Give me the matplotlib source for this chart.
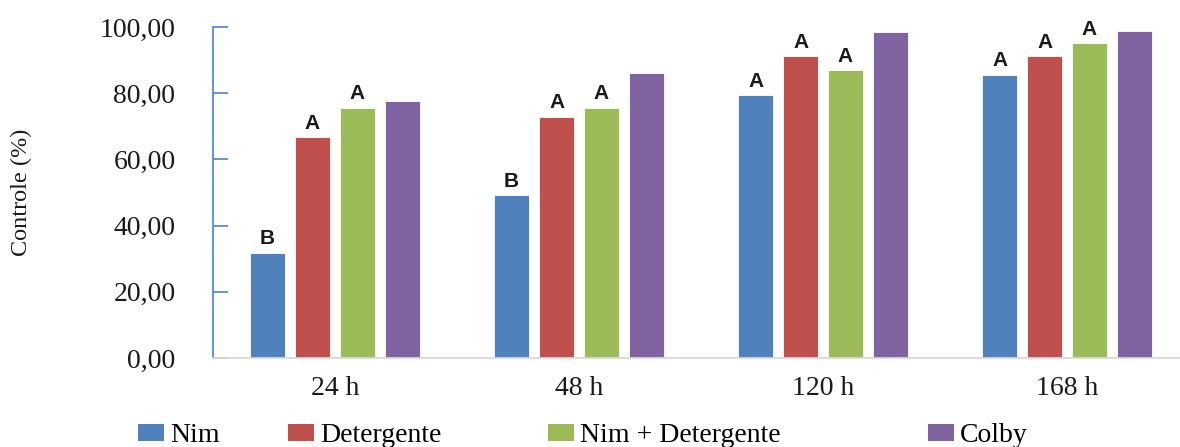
import numpy as np
import matplotlib
matplotlib.use("Agg")
import matplotlib.pyplot as plt
from matplotlib.patches import Patch

# Controle (%) por tratamento e tempo de avaliacao
tempos = ["24 h", "48 h", "120 h", "168 h"]
tratamentos = ["Nim", "Detergente", "Nim + Detergente", "Colby"]
nim = [31.8, 49.2, 79.5, 85.6]
detergente = [66.8, 72.9, 91.2, 91.2]
nim_detergente = [75.6, 75.6, 87.0, 95.1]
colby = [77.6, 86.1, 98.4, 98.9]

# letras do teste de medias (Colby sem letra)
letras_nim = ["B", "B", "A", "A"]
letras_det = ["A", "A", "A", "A"]
letras_nd = ["A", "A", "A", "A"]

cores = ["#4F81BD", "#C0504D", "#9BBB59", "#8064A2"]
serif = ["Liberation Serif", "DejaVu Serif"]

fig = plt.figure(figsize=(11.8, 4.47), dpi=100)
ax = fig.add_axes([0.1805, 0.199, 1 - 0.1805, 0.7406])

x = np.arange(len(tempos))
largura = 0.143
passo = 0.184
series = [nim, detergente, nim_detergente, colby]
letras = [letras_nim, letras_det, letras_nd, None]

for i, (vals, cor, let) in enumerate(zip(series, cores, letras)):
    pos = x + (i - 1.5) * passo
    ax.bar(pos, vals, width=largura, color=cor, edgecolor="white", linewidth=0.6)
    if let is not None:
        for px, v, l in zip(pos, vals, let):
            ax.text(px, v + 1.3, l, ha="center", va="bottom", fontsize=15,
                    fontweight="bold", family=["Liberation Sans", "DejaVu Sans"],
                    color="#1a1a1a")

ax.set_ylim(0, 100)
ax.set_xlim(-0.5, 3.463)
ax.set_yticks(np.arange(0, 101, 20))
ax.set_yticklabels([f"{v:.2f}".replace(".", ",") for v in np.arange(0, 101, 20)])
ax.set_xticks(x)
ax.set_xticklabels(tempos)

for lab in ax.get_yticklabels() + ax.get_xticklabels():
    lab.set_family(serif)
    lab.set_fontsize(20)
    lab.set_color("#1a1a1a")

ax.tick_params(axis="y", direction="in", length=11, width=1.3, color="#5B8BCB", pad=27)
ax.tick_params(axis="x", length=0, pad=13)

ax.spines["top"].set_visible(False)
ax.spines["right"].set_visible(False)
ax.spines["left"].set_color("#5B8BCB")
ax.spines["left"].set_linewidth(1.3)
ax.spines["bottom"].set_color("#D9D9D9")
ax.spines["bottom"].set_linewidth(1.3)

ax.set_ylabel("Controle (%)", family=serif, fontsize=17.5, color="#1a1a1a")
ax.yaxis.set_label_coords(-0.187, 0.5)

# legenda: uma entrada por bloco, posicionadas ao longo da base
leg_x = [138, 288, 548, 928]
for nome, cor, lx in zip(tratamentos, cores, leg_x):
    fig.legend(handles=[Patch(facecolor=cor, edgecolor="none")], labels=[nome],
               loc="center left", bbox_to_anchor=(lx / 1180, 0.025),
               frameon=False, borderpad=0, borderaxespad=0,
               handlelength=0.95, handleheight=0.55, handletextpad=0.2,
               prop={"family": serif, "size": 20})

fig.savefig("out.png", dpi=100)
